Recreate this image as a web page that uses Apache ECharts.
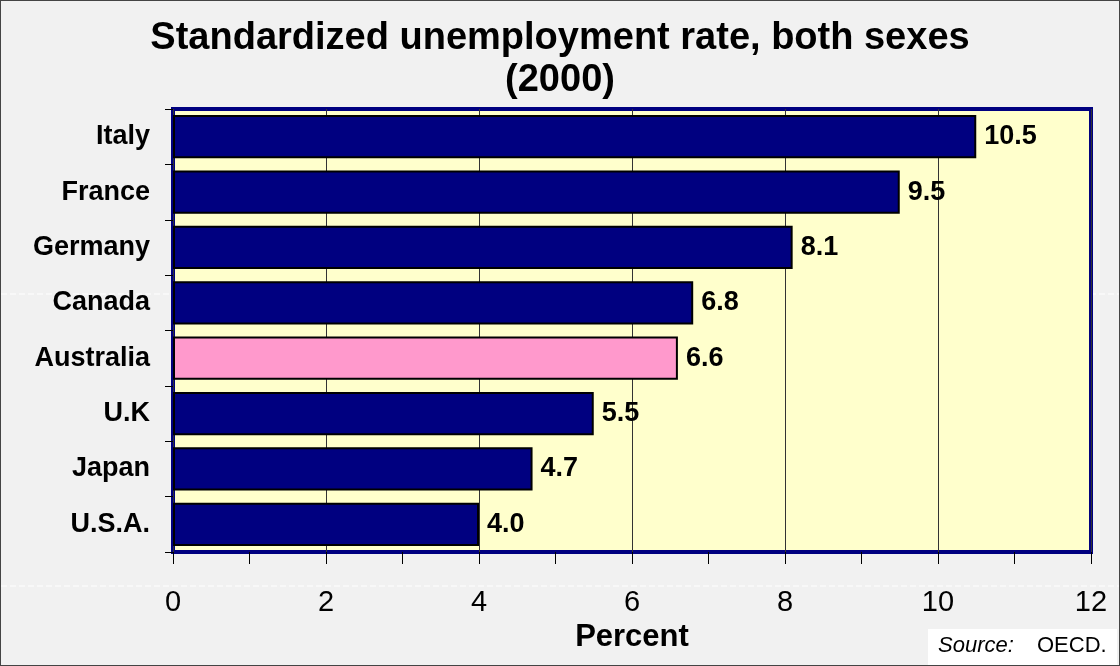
<!DOCTYPE html>
<html>
<head>
<meta charset="utf-8">
<script src="https://cdn.jsdelivr.net/npm/echarts@6/dist/echarts.min.js"></script>
<style>
  html, body { margin: 0; padding: 0; background: #f1f1f1; }
  #chart { width: 1120px; height: 666px; box-sizing: border-box; border: 1px solid #444; background: #f1f1f1; }
</style>
</head>
<body>
<div id="chart"></div>
<script>
// Standardized unemployment rate, both sexes, 2000 (OECD)
const countries = ['Italy', 'France', 'Germany', 'Canada', 'Australia', 'U.K', 'Japan', 'U.S.A.'];
const rates = [10.5, 9.5, 8.1, 6.8, 6.6, 5.5, 4.7, 4.0];
const highlight = 'Australia';
const xTicks = [0, 2, 4, 6, 8, 10, 12];

const FONT = '"Liberation Sans", Arial, Helvetica, sans-serif';
const NAVY = '#000080';
const PINK = '#FF99CC';

const chart = echarts.init(document.getElementById('chart'), null, { renderer: 'canvas' });

chart.setOption({
  backgroundColor: '#f1f1f1',
  animation: false,
  title: {
    text: 'Standardized unemployment rate, both sexes\n(2000)',
    left: 'center',
    top: 12,
    textStyle: { fontFamily: FONT, fontSize: 38, fontWeight: 'bold', color: '#000', lineHeight: 42 }
  },
  grid: {
    left: 172, right: 28, top: 108, bottom: 113,
    show: true,
    backgroundColor: '#FFFFCC',
    borderColor: NAVY,
    borderWidth: 4
  },
  xAxis: [
    {
      type: 'value', min: 0, max: 12, interval: 2, position: 'bottom',
      axisLine: { show: false },
      axisTick: { show: false },
      splitLine: { show: true, lineStyle: { color: '#333', width: 1 } },
      axisLabel: {
        show: true, margin: 36, fontFamily: FONT, fontSize: 29, color: '#000',
        formatter: v => (xTicks.indexOf(v) >= 0 ? String(v) : '')
      },
      name: 'Percent', nameLocation: 'middle', nameGap: 68,
      nameTextStyle: { fontFamily: FONT, fontSize: 31, fontWeight: 'bold', color: '#000' }
    },
    {
      type: 'value', min: 0, max: 12, interval: 1, position: 'bottom',
      axisLine: { show: false },
      axisTick: { show: true, inside: false, length: 12, lineStyle: { color: '#000', width: 1 } },
      axisLabel: { show: false },
      splitLine: { show: false }
    }
  ],
  yAxis: {
    type: 'category',
    inverse: true,
    data: countries,
    axisLine: { show: false },
    axisTick: { show: true, length: 8, lineStyle: { color: '#000', width: 1 } },
    axisLabel: { margin: 23, fontFamily: FONT, fontSize: 27, fontWeight: 'bold', color: '#000' }
  },
  series: [{
    type: 'bar',
    xAxisIndex: 0,
    data: rates.map((v, i) => ({
      value: v,
      itemStyle: { color: countries[i] === highlight ? PINK : NAVY }
    })),
    barWidth: '78%',
    itemStyle: { borderColor: '#000', borderWidth: 2 },
    label: {
      show: true, position: 'right', distance: 8,
      fontFamily: FONT, fontSize: 27, fontWeight: 'bold', color: '#000',
      formatter: p => p.value.toFixed(1)
    }
  }],
  graphic: [
    {
      type: 'line', z: -1, silent: true,
      shape: { x1: 0, y1: 293, x2: 1120, y2: 293 },
      style: { stroke: '#ffffff', lineWidth: 1, lineDash: [6, 3] }
    },
    {
      type: 'line', z: -1, silent: true,
      shape: { x1: 0, y1: 585, x2: 1120, y2: 585 },
      style: { stroke: '#ffffff', lineWidth: 1, lineDash: [6, 3] }
    },
    {
      type: 'group', left: 927, top: 628,
      children: [
        { type: 'rect', shape: { x: 0, y: 0, width: 189, height: 36 }, style: { fill: '#ffffff' } },
        { type: 'text', x: 10, y: 6, style: { text: 'Source:', fontFamily: FONT, fontSize: 22, fontStyle: 'italic', fill: '#000' } },
        { type: 'text', x: 109, y: 6, style: { text: 'OECD.', fontFamily: FONT, fontSize: 22, fill: '#000' } }
      ]
    }
  ]
});
</script>
</body>
</html>
